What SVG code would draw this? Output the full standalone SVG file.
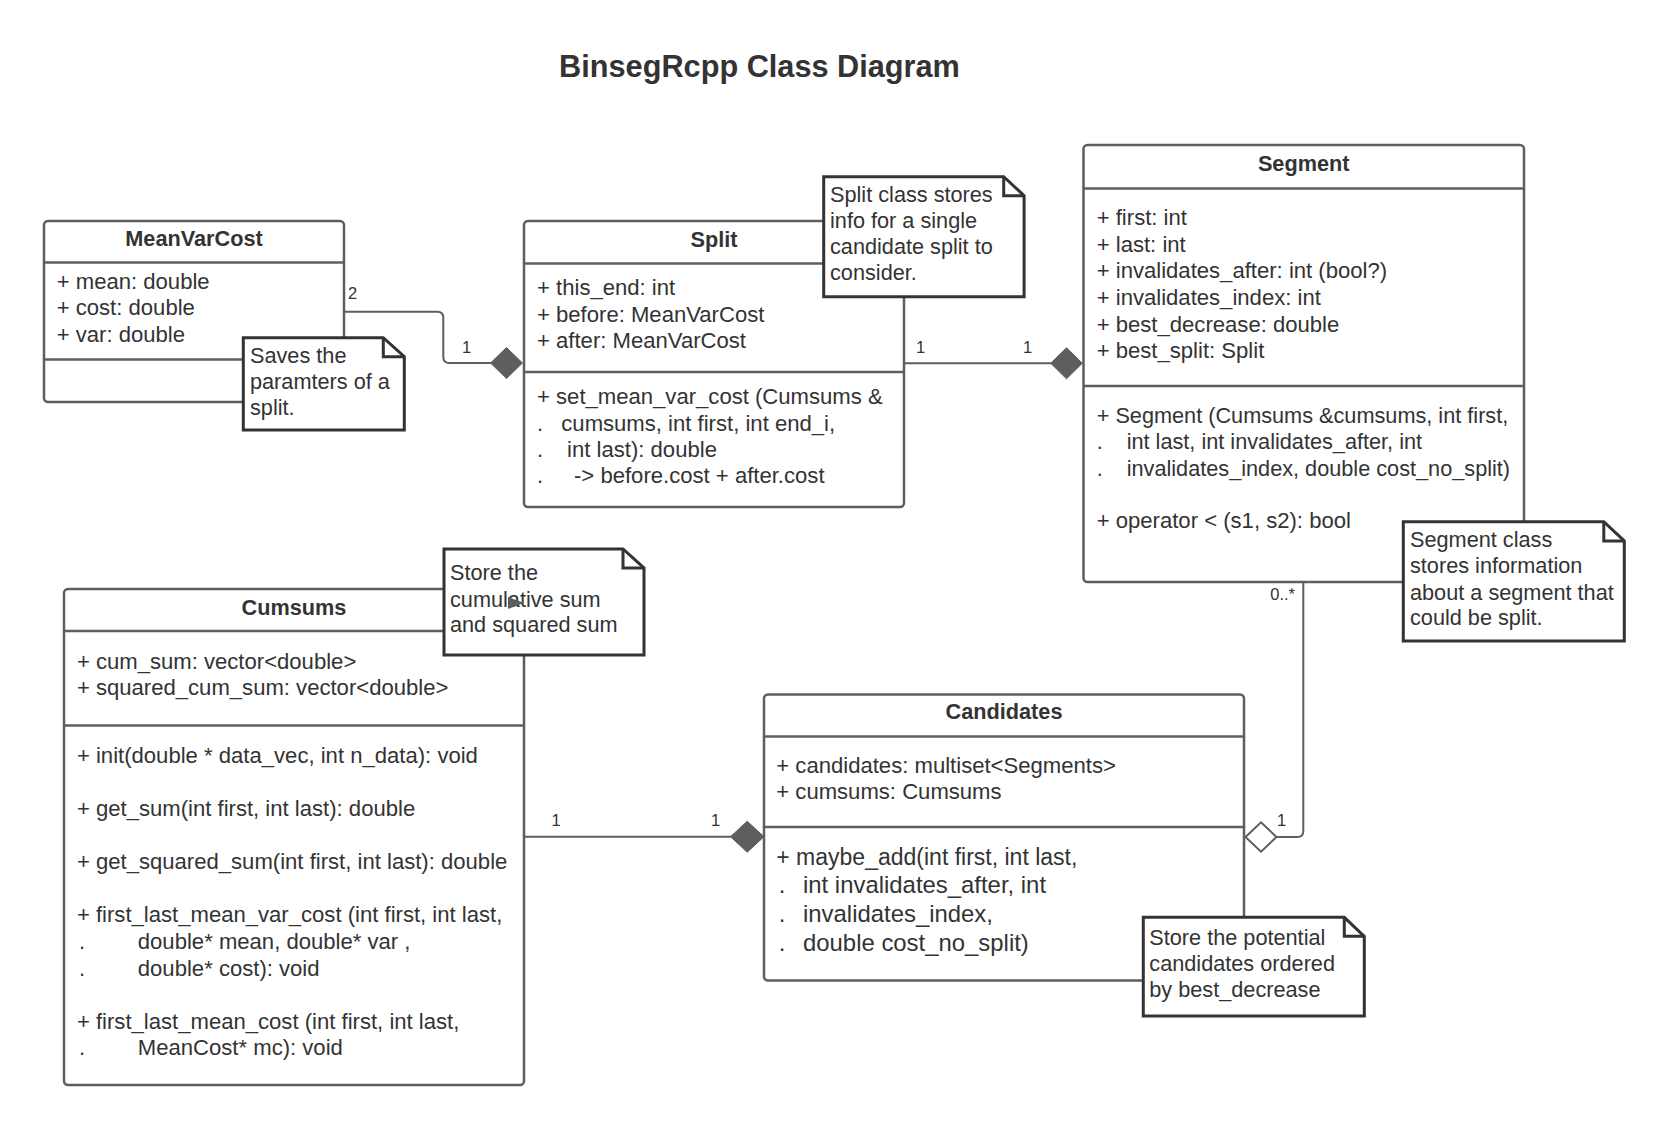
<svg xmlns="http://www.w3.org/2000/svg" width="1664" height="1133" viewBox="0 0 1664 1133">
<style>
text{font-family:"Liberation Sans",Arial,sans-serif;fill:#333333}
.t{font-size:21.7px}
.t2{font-size:22.1px}
.tm{font-size:23px}
.tm2{font-size:23.9px}
.h{font-size:21.7px;font-weight:bold;text-anchor:middle}
.title{font-size:30.7px;font-weight:bold;text-anchor:middle}
.lbl{font-size:16.5px}
.box{fill:#ffffff;stroke:#5e5e5e;stroke-width:2.5}
.div{stroke:#5e5e5e;stroke-width:2.5;fill:none}
.note{fill:#ffffff;stroke:#333333;stroke-width:3;stroke-linejoin:miter}
.fold{fill:none;stroke:#333333;stroke-width:3}
.ln{fill:none;stroke:#5e5e5e;stroke-width:2}
.dia{fill:#5e5e5e;stroke:#5e5e5e;stroke-width:1}
.hdia{fill:#ffffff;stroke:#5e5e5e;stroke-width:2}
</style>
<rect width="1664" height="1133" fill="#ffffff"/>
<text class="title" x="759.5" y="76.5">BinsegRcpp Class Diagram</text>

<g id="connectors">
  <path class="ln" d="M344,311.7 H437.3 Q443.3,311.7 443.3,317.7 V357 Q443.3,363 449.3,363 H491"/>
  <polygon class="dia" points="490.5,363 506.5,347.5 522.5,363 506.5,378.5"/>
  <text class="lbl" x="352.5" y="299" text-anchor="middle">2</text>
  <text class="lbl" x="466.7" y="352.7" text-anchor="middle">1</text>

  <path class="ln" d="M904,363.3 H1051"/>
  <polygon class="dia" points="1050.7,363.3 1066.5,347.8 1082.3,363.3 1066.5,378.8"/>
  <text class="lbl" x="920.7" y="352.7" text-anchor="middle">1</text>
  <text class="lbl" x="1027.7" y="352.7" text-anchor="middle">1</text>

  <path class="ln" d="M524,836.7 H731"/>
  <polygon class="dia" points="730.5,836.7 747.2,821.2 764,836.7 747.2,852.2"/>
  <text class="lbl" x="556" y="826" text-anchor="middle">1</text>
  <text class="lbl" x="715.7" y="826" text-anchor="middle">1</text>

  <path class="ln" d="M1276,837 H1297.3 Q1303.3,837 1303.3,831 V582"/>
  <polygon class="hdia" points="1245.5,837 1261,822.3 1276.5,837 1261,851.7"/>
  <text class="lbl" x="1281.7" y="825.7" text-anchor="middle">1</text>
  <text class="lbl" x="1295" y="600" text-anchor="end">0..*</text>
</g>

<g id="MeanVarCost">
  <rect class="box" x="44" y="221" width="300" height="181" rx="4"/>
  <line class="div" x1="44" y1="262.5" x2="344" y2="262.5"/>
  <line class="div" x1="44" y1="359.5" x2="344" y2="359.5"/>
  <text class="h" x="194" y="245.5">MeanVarCost</text>
  <text class="t2" x="56.7" y="289">+ mean: double</text>
  <text class="t2" x="56.7" y="315.3">+ cost: double</text>
  <text class="t2" x="56.7" y="341.7">+ var: double</text>
</g>

<g id="Split">
  <rect class="box" x="524" y="221" width="380" height="286" rx="4"/>
  <line class="div" x1="524" y1="263.5" x2="904" y2="263.5"/>
  <line class="div" x1="524" y1="372" x2="904" y2="372"/>
  <text class="h" x="714" y="246.5">Split</text>
  <text class="t2" x="537" y="295">+ this_end: int</text>
  <text class="t2" x="537" y="321.7">+ before: MeanVarCost</text>
  <text class="t2" x="537" y="348.3">+ after: MeanVarCost</text>
  <text class="t2" x="537" y="404.3">+ set_mean_var_cost (Cumsums &amp;</text>
  <text class="t2" y="430.7"><tspan x="537">.</tspan><tspan x="561.3">cumsums, int first, int end_i,</tspan></text>
  <text class="t2" y="457.3"><tspan x="537">.</tspan><tspan x="567.1">int last): double</tspan></text>
  <text class="t2" y="483.3"><tspan x="537">.</tspan><tspan x="574">-&gt; before.cost + after.cost</tspan></text>
</g>

<g id="Segment">
  <rect class="box" x="1083.5" y="145" width="440.5" height="437" rx="4"/>
  <line class="div" x1="1083.5" y1="188.5" x2="1524" y2="188.5"/>
  <line class="div" x1="1083.5" y1="386" x2="1524" y2="386"/>
  <text class="h" x="1303.7" y="170.7">Segment</text>
  <text class="t2" x="1096.7" y="225">+ first: int</text>
  <text class="t2" x="1096.7" y="251.7">+ last: int</text>
  <text class="t2" x="1096.7" y="278.3">+ invalidates_after: int (bool?)</text>
  <text class="t2" x="1096.7" y="305">+ invalidates_index: int</text>
  <text class="t2" x="1096.7" y="331.7">+ best_decrease: double</text>
  <text class="t2" x="1096.7" y="358.3">+ best_split: Split</text>
  <text class="t" x="1096.7" y="422.7">+ Segment (Cumsums &amp;cumsums, int first,</text>
  <text class="t" y="449.3"><tspan x="1096.7">.</tspan><tspan x="1126.7">int last, int invalidates_after, int</tspan></text>
  <text class="t" y="475.5"><tspan x="1096.7">.</tspan><tspan x="1126.7">invalidates_index, double cost_no_split)</tspan></text>
  <text class="t2" x="1096.7" y="528.3">+ operator &lt; (s1, s2): bool</text>
</g>

<g id="Cumsums">
  <rect class="box" x="64" y="589" width="460" height="496" rx="4"/>
  <line class="div" x1="64" y1="631" x2="524" y2="631"/>
  <line class="div" x1="64" y1="725.5" x2="524" y2="725.5"/>
  <text class="h" x="294" y="615">Cumsums</text>
  <text class="t2" x="76.9" y="668.6">+ cum_sum: vector&lt;double&gt;</text>
  <text class="t2" x="76.9" y="695.4">+ squared_cum_sum: vector&lt;double&gt;</text>
  <text class="t2" x="76.9" y="763">+ init(double * data_vec, int n_data): void</text>
  <text class="t2" x="76.9" y="816">+ get_sum(int first, int last): double</text>
  <text class="t2" x="76.9" y="868.6">+ get_squared_sum(int first, int last): double</text>
  <text class="t2" x="76.9" y="922">+ first_last_mean_var_cost (int first, int last,</text>
  <text class="t2" y="949"><tspan x="79">.</tspan><tspan x="137.8">double* mean, double* var ,</tspan></text>
  <text class="t2" y="975.5"><tspan x="79">.</tspan><tspan x="137.8">double* cost): void</tspan></text>
  <text class="t2" x="76.9" y="1029">+ first_last_mean_cost (int first, int last,</text>
  <text class="t2" y="1055"><tspan x="79">.</tspan><tspan x="137.8">MeanCost* mc): void</tspan></text>
</g>

<g id="Candidates">
  <rect class="box" x="764" y="694.5" width="480" height="286" rx="4"/>
  <line class="div" x1="764" y1="736.5" x2="1244" y2="736.5"/>
  <line class="div" x1="764" y1="827" x2="1244" y2="827"/>
  <text class="h" x="1004" y="719.3">Candidates</text>
  <text class="t2" x="776.3" y="772.7">+ candidates: multiset&lt;Segments&gt;</text>
  <text class="t2" x="776.3" y="799.3">+ cumsums: Cumsums</text>
  <text class="tm" x="776.3" y="865">+ maybe_add(int first, int last,</text>
  <text class="tm2" y="893.3"><tspan x="778.7">.</tspan><tspan x="803">int invalidates_after, int</tspan></text>
  <text class="tm2" y="921.7"><tspan x="778.7">.</tspan><tspan x="803">invalidates_index,</tspan></text>
  <text class="tm2" y="950.7"><tspan x="778.7">.</tspan><tspan x="803">double cost_no_split)</tspan></text>
</g>

<g id="note-meanvarcost">
  <path class="note" d="M243.3,337.7 H383.3 L404.3,356.7 V430 H243.3 Z"/>
  <path class="fold" d="M383.3,337.7 V356.7 H404.3"/>
  <text class="t" x="250" y="363.3">Saves the</text>
  <text class="t" x="250" y="389.3">paramters of a</text>
  <text class="t" x="250" y="415">split.</text>
</g>

<g id="note-split">
  <path class="note" d="M823.7,176.7 H1003.7 L1024.1,195.7 V296.7 H823.7 Z"/>
  <path class="fold" d="M1003.7,176.7 V195.7 H1024.1"/>
  <text class="t" x="830" y="202.3">Split class stores</text>
  <text class="t" x="830" y="228.3">info for a single</text>
  <text class="t" x="830" y="254.3">candidate split to</text>
  <text class="t" x="830" y="280">consider.</text>
</g>

<g id="note-segment">
  <path class="note" d="M1403.3,521.7 H1603.8 L1624.3,541 V641 H1403.3 Z"/>
  <path class="fold" d="M1603.8,521.7 V541 H1624.3"/>
  <text class="t" x="1410" y="546.7">Segment class</text>
  <text class="t" x="1410" y="573.3">stores information</text>
  <text class="t" x="1410" y="600">about a segment that</text>
  <text class="t" x="1410" y="625">could be split.</text>
</g>

<g id="note-cumsums">
  <path class="note" d="M444,549 H623 L644,568 V655 H444 Z"/>
  <path class="fold" d="M623,549 V568 H644"/>
  <text class="t" x="450" y="580">Store the</text>
  <text class="t" x="450" y="606.7">cumulative sum</text>
  <text class="t" x="450" y="632.3">and squared sum</text>
  <polygon points="508,597 524,603 508,609" fill="#5e5e5e"/>
</g>

<g id="note-candidates">
  <path class="note" d="M1143.3,917.3 H1344.3 L1364.3,936.3 V1016 H1143.3 Z"/>
  <path class="fold" d="M1344.3,917.3 V936.3 H1364.3"/>
  <text class="t" x="1149.3" y="945">Store the potential</text>
  <text class="t" x="1149.3" y="971">candidates ordered</text>
  <text class="t" x="1149.3" y="996.7">by best_decrease</text>
</g>
</svg>
